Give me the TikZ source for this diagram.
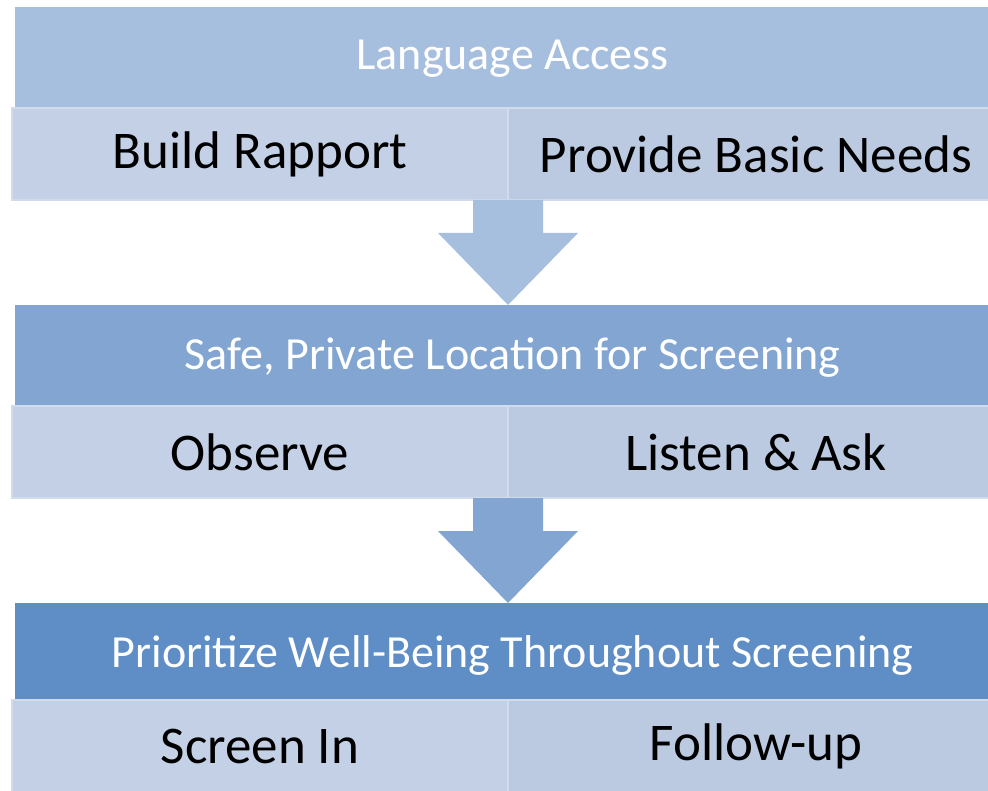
\documentclass[tikz,border=0pt]{standalone}
\usepackage{fontspec}
\setmainfont{Carlito}
\usepackage{tikz}
\usetikzlibrary{positioning, calc}

\definecolor{hdrA}{HTML}{A7BFDE}
\definecolor{hdrB}{HTML}{82A5D1}
\definecolor{hdrC}{HTML}{5F8DC5}
\definecolor{cellL}{HTML}{C4D0E5}
\definecolor{cellR}{HTML}{BBCAE1}
\definecolor{cellEdge}{HTML}{D2DBEB}

\begin{document}
\begin{tikzpicture}[
  x=1pt, y=-1pt,
  hdr/.style={rectangle, anchor=north west, inner sep=0pt, minimum width=995pt,
              minimum height=100pt, text=white, text depth=4pt,
              font=\fontsize{46}{50}\selectfont},
  cell/.style={rectangle, anchor=north west, inner sep=0pt, outer sep=0pt,
               draw=cellEdge, line width=2.5pt, minimum height=92pt, text=black,
               font=\fontsize{53}{57}\selectfont},
  lcell/.style={cell, fill=cellL, minimum width=496pt},
  rcell/.style={cell, fill=cellR, minimum width=496pt}
]
\useasboundingbox (0,0) rectangle (988,791);
\fill[white] (0,0) rectangle (988,791);
\clip (0,0) rectangle (988,791);

%% --- Tier 1 ---
\node[hdr, fill=hdrA] (h1) at (15,7) {Language Access};
\node[lcell] (c1l) at (12,108) {Build Rapport};
\node[rcell, right=0pt of c1l.north east, anchor=north west] (c1r) {Provide Basic Needs};

%% --- Tier 2 ---
\node[hdr, fill=hdrB] (h2) at (15,305) {Safe, Private Location for Screening};
\node[lcell] (c2l) at (12,406) {Observe};
\node[rcell, right=0pt of c2l.north east, anchor=north west] (c2r) {Listen \& Ask};

%% --- Tier 3 ---
\node[hdr, fill=hdrC] (h3) at (15,603) {Prioritize Well-Being Throughout Screening};
\node[lcell] (c3l) at (12,700) {Screen In};
\node[rcell, right=0pt of c3l.north east, anchor=north west] (c3r) {Follow-up};

%% --- Block arrows between tiers (tip sits on the divider line x=508) ---
\fill[hdrA] ($(c1l.south east)+(-35,0)$) -- ++(70,0) -- ++(0,33) -- ++(35,0)
  -- ($(c1l.south east)+(0,105)$) -- ++(-70,-72) -- ++(35,0) -- cycle;
\fill[hdrB] ($(c2l.south east)+(-35,0)$) -- ++(70,0) -- ++(0,33) -- ++(35,0)
  -- ($(c2l.south east)+(0,105)$) -- ++(-70,-72) -- ++(35,0) -- cycle;

\end{tikzpicture}
\end{document}
